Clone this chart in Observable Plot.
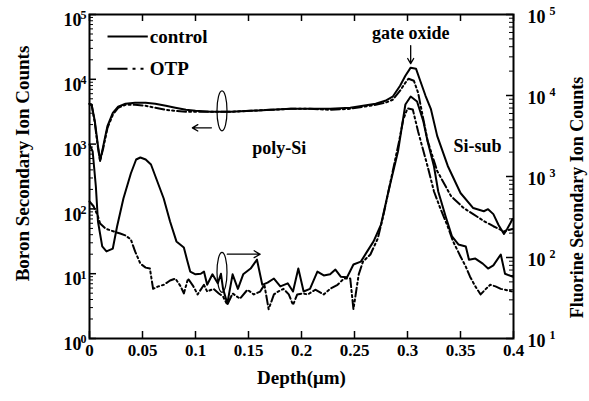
<!DOCTYPE html>
<html><head><meta charset="utf-8">
<script src="https://cdn.jsdelivr.net/npm/d3@7"></script>
<script src="https://cdn.jsdelivr.net/npm/@observablehq/plot@0.6"></script>
<style>
html,body{margin:0;padding:0;background:#fff;}
g[aria-label="x-tick-labels"] text{letter-spacing:5px;}
g[aria-label="y-tick-labels"] text{letter-spacing:3px;}
g[aria-label="x-title"] text{letter-spacing:1.2px;}
g[aria-label="y-title-left"] text{letter-spacing:0.8px;}
g[aria-label="y-title-right"] text{letter-spacing:2.4px;}
g[aria-label="legend-labels"] text{letter-spacing:0.7px;}
g[aria-label="notes"] text{letter-spacing:1.5px;}
</style></head><body><div id="chart"></div>
<script>
// ---- Boron (left axis) ----
const boronControlDepth = [0,0.002,0.005,0.008,0.010,0.013,0.017,0.022,0.027,0.034,0.043,0.053,0.062,0.072,0.081,0.091,0.100,0.114,0.133,0.152,0.171,0.190,0.208,0.227,0.246,0.258,0.270,0.279,0.286,0.293,0.298,0.303,0.308,0.312,0.317,0.322,0.328,0.338,0.350,0.362,0.372,0.376,0.381,0.386,0.391,0.394,0.397,0.399];
const boronControlCounts = [4190,4045,2287,938,550,938,1914,3040,3766,4190,4345,4345,4190,3900,3634,3380,3265,3150,3150,3265,3380,3508,3508,3508,3634,3900,4190,4665,5380,7960,11370,15130,14600,9510,5570,3508,1340,460,176,103,92,99,83,56,41,49,60,70];
const boronOTPDepth = [0,0.002,0.005,0.008,0.010,0.013,0.017,0.022,0.027,0.034,0.043,0.053,0.062,0.072,0.081,0.091,0.100,0.114,0.133,0.152,0.171,0.190,0.208,0.227,0.246,0.258,0.270,0.279,0.286,0.293,0.298,0.301,0.306,0.310,0.319,0.328,0.341,0.353,0.362,0.372,0.381,0.391,0.399];
const boronOTPCounts = [4190,4045,2130,873,550,873,1780,2832,3634,4045,4045,3900,3634,3380,3265,3150,3150,3150,3150,3265,3380,3508,3508,3380,3508,3766,4045,4345,4830,6670,8860,10210,9510,6210,1121,385,158,103,83,65,54,45,49];
// ---- Fluorine (right axis) ----
const fluorineControlDepth = [0,0.003,0.006,0.008,0.012,0.016,0.022,0.026,0.032,0.039,0.044,0.048,0.053,0.058,0.064,0.070,0.076,0.082,0.089,0.092,0.095,0.100,0.105,0.108,0.111,0.116,0.121,0.124,0.126,0.130,0.135,0.140,0.145,0.152,0.158,0.163,0.168,0.174,0.180,0.187,0.192,0.197,0.202,0.208,0.215,0.221,0.227,0.232,0.237,0.243,0.249,0.256,0.262,0.268,0.275,0.282,0.291,0.298,0.303,0.309,0.315,0.319,0.325,0.329,0.336,0.342,0.348,0.355,0.358,0.364,0.371,0.376,0.381,0.388,0.392,0.399];
const fluorineControlCounts = [2484,2037,753,278,137,119,129,241,535,1089,1622,1717,1622,1406,867,535,278,158,133,94,67,62,63,67,46,62,48,63,41,27,62,41,62,73,94,46,49,55,44,48,38,73,38,41,67,60,62,71,58,57,82,89,119,158,255,653,2037,7740,9720,8430,4780,2700,1330,653,321,182,145,137,94,97,84,73,80,109,63,58];
const fluorineOTPDepth = [0,0.004,0.008,0.010,0.015,0.023,0.029,0.034,0.039,0.043,0.048,0.053,0.057,0.060,0.065,0.070,0.076,0.081,0.086,0.089,0.093,0.098,0.102,0.108,0.111,0.117,0.122,0.126,0.130,0.135,0.142,0.149,0.155,0.161,0.165,0.169,0.174,0.178,0.183,0.188,0.192,0.196,0.201,0.206,0.213,0.221,0.227,0.234,0.240,0.246,0.249,0.254,0.258,0.265,0.272,0.277,0.284,0.292,0.296,0.300,0.305,0.310,0.319,0.325,0.331,0.338,0.343,0.350,0.355,0.359,0.364,0.369,0.374,0.378,0.383,0.388,0.392,0.399];
const fluorineOTPCounts = [491,426,321,263,228,209,198,187,167,119,84,75,73,41,44,46,52,55,44,36,55,44,35,46,38,41,36,33,26,36,31,40,35,38,46,23,35,38,41,35,26,35,36,35,40,35,41,46,55,55,23,62,89,109,172,321,867,2700,5060,6920,6720,3590,1330,653,403,241,158,103,77,58,44,35,41,46,44,41,40,38];

// ---- ticks ----
const xTicks = [0,0.05,0.1,0.15,0.2,0.25,0.3,0.35,0.4];
const xTickLabels = ["0","0.05","0.1","0.15","0.2","0.25","0.3","0.35","0.4"];
const leftExponents = [0,1,2,3,4,5];
const rightExponents = [1,2,3,4,5];
const minorMultipliers = [2,3,4,5,6,7,8,9];

// ---- annotations (data coordinates: depth, boron counts) ----
const legendItems = [
  {label: "control", x1: 0.017, x2: 0.055, y: 45600, dash: null},
  {label: "OTP", x1: 0.017, x2: 0.055, y: 14600, dash: "20,5,3,5,3,5"}
];
const textNotes = [
  {text: "gate oxide", x: 0.303, y: 50800},
  {text: "poly-Si", x: 0.179, y: 873}
];
const plainNotes = [
  {text: "Si-sub", x: 0.366, y: 938}
];
const arrows = [
  {x1: 0.303, y1: 33100, x2: 0.303, y2: 17430},
  {x1: 0.115, y1: 1782, x2: 0.097, y2: 1782},
  {x1: 0.130, y1: 20, x2: 0.161, y2: 20}
];
const ellipses = [{x: 0.125, y: 3265}, {x: 0.125, y: 10.5}];

// fluorine right axis (10^1..10^5) maps onto left axis (10^0..10^5)
const toLeft = f => Math.pow(10, (Math.log10(f) - 1) * 1.25);

const zip = (xs, ys) => xs.map((x, i) => ({depth: x, counts: ys[i]}));
const bC = zip(boronControlDepth, boronControlCounts);
const bO = zip(boronOTPDepth, boronOTPCounts);
const fC = zip(fluorineControlDepth, fluorineControlCounts);
const fO = zip(fluorineOTPDepth, fluorineOTPCounts);

const leftMinor = leftExponents.slice(0, -1).flatMap(e => minorMultipliers.map(m => m * Math.pow(10, e)));
const rightMinor = rightExponents.slice(0, -1).flatMap(e => minorMultipliers.map(m => toLeft(m * Math.pow(10, e))));

const W = 589, H = 401, ML = 89, MR = 76, MT = 14, MB = 63;
const FW = W - ML - MR, FH = H - MT - MB;
const OTP_DASH = "9,3,2,3,2,3";

const ellipseSymbol = {draw(ctx) {
  const rx = 5, ry = 20, k = 0.5523;
  ctx.moveTo(rx, 0);
  ctx.bezierCurveTo(rx, ry * k, rx * k, ry, 0, ry);
  ctx.bezierCurveTo(-rx * k, ry, -rx, ry * k, -rx, 0);
  ctx.bezierCurveTo(-rx, -ry * k, -rx * k, -ry, 0, -ry);
  ctx.bezierCurveTo(rx * k, -ry, rx, -ry * k, rx, 0);
  ctx.closePath();
}};

const chart = Plot.plot({
  width: W, height: H,
  marginLeft: ML, marginRight: MR, marginTop: MT, marginBottom: MB,
  style: {fontFamily: "'Liberation Serif', 'Times New Roman', serif", fontWeight: "bold", fontSize: "17px", background: "white", color: "black"},
  x: {domain: [0, 0.4], axis: null},
  y: {type: "log", domain: [1, 1e5], axis: null},
  marks: [
    // curves
    Plot.line(bC, {x: "depth", y: "counts", stroke: "black", strokeWidth: 2}),
    Plot.line(bO, {x: "depth", y: "counts", stroke: "black", strokeWidth: 2, strokeDasharray: OTP_DASH}),
    Plot.line(fC, {x: "depth", y: d => toLeft(d.counts), stroke: "black", strokeWidth: 2}),
    Plot.line(fO, {x: "depth", y: d => toLeft(d.counts), stroke: "black", strokeWidth: 2, strokeDasharray: OTP_DASH}),
    // frame
    Plot.frame({stroke: "black", strokeWidth: 2}),
    // left ticks (inward)
    Plot.tickY(leftExponents.map(e => Math.pow(10, e)), {y: d => d, insetRight: FW - 7, strokeWidth: 1.5}),
    Plot.tickY(leftMinor, {y: d => d, insetRight: FW - 4, strokeWidth: 1}),
    // right ticks (inward)
    Plot.tickY(rightExponents.map(e => toLeft(Math.pow(10, e))), {y: d => d, insetLeft: FW - 7, strokeWidth: 1.5}),
    Plot.tickY(rightMinor, {y: d => d, insetLeft: FW - 4, strokeWidth: 1}),
    // x ticks top and bottom (inward)
    Plot.tickX(xTicks, {x: d => d, insetBottom: FH - 7, strokeWidth: 1.5}),
    Plot.tickX(xTicks, {x: d => d, insetTop: FH - 7, strokeWidth: 1.5}),
    // x tick labels
    Plot.text(xTicks, {x: d => d, frameAnchor: "bottom", dy: 17, dx: 0, text: (d, i) => xTickLabels[i], fontSize: 17, ariaLabel: "x-tick-labels"}),
    // left tick labels
    Plot.text(leftExponents, {y: e => Math.pow(10, e), frameAnchor: "left", text: () => "10", textAnchor: "end", dx: -8, dy: 6, fontSize: 18, ariaLabel: "y-tick-labels"}),
    Plot.text(leftExponents, {y: e => Math.pow(10, e), frameAnchor: "left", text: e => String(e), textAnchor: "start", dx: -9, dy: 1, fontSize: 12}),
    // right tick labels
    Plot.text(rightExponents, {y: e => toLeft(Math.pow(10, e)), frameAnchor: "right", text: () => "10", textAnchor: "start", dx: 14, dy: 3, fontSize: 18, ariaLabel: "y-tick-labels"}),
    Plot.text(rightExponents, {y: e => toLeft(Math.pow(10, e)), frameAnchor: "right", text: e => String(e), textAnchor: "start", dx: 36, dy: -3, fontSize: 12}),
    // axis titles
    Plot.text(["Depth(\u03bcm)"], {frameAnchor: "bottom", textAnchor: "middle", dy: 45, fontSize: 19, ariaLabel: "x-title"}),
    Plot.text(["Boron Secondary Ion Counts"], {frameAnchor: "left", textAnchor: "middle", rotate: -90, dx: -67, dy: -13, fontSize: 19, ariaLabel: "y-title-left"}),
    Plot.text(["Fluorine Secondary Ion Counts"], {frameAnchor: "right", textAnchor: "middle", rotate: -90, dx: 64, dy: 21, fontSize: 18, ariaLabel: "y-title-right"}),
    // legend
    Plot.link(legendItems.filter(d => !d.dash), {x1: "x1", x2: "x2", y1: "y", y2: "y", stroke: "black", strokeWidth: 2}),
    Plot.link(legendItems.filter(d => d.dash), {x1: "x1", x2: "x2", y1: "y", y2: "y", stroke: "black", strokeWidth: 2, strokeDasharray: "20,5,3,5,3,5"}),
    Plot.text(legendItems, {x: d => d.x2, y: "y", text: "label", textAnchor: "start", dx: 2, fontSize: 19, ariaLabel: "legend-labels"}),
    // annotations
    Plot.text(textNotes, {x: "x", y: "y", text: "text", fontSize: 18, ariaLabel: "notes"}),
    Plot.text(plainNotes, {x: "x", y: "y", text: "text", fontSize: 18}),
    Plot.arrow(arrows, {x1: "x1", y1: "y1", x2: "x2", y2: "y2", stroke: "black", strokeWidth: 1.3, headLength: 8}),
    Plot.dot(ellipses, {x: "x", y: "y", symbol: ellipseSymbol, stroke: "black", strokeWidth: 1.2, fill: "none"})
  ]
});
document.getElementById("chart").appendChild(chart);
</script></body></html>
